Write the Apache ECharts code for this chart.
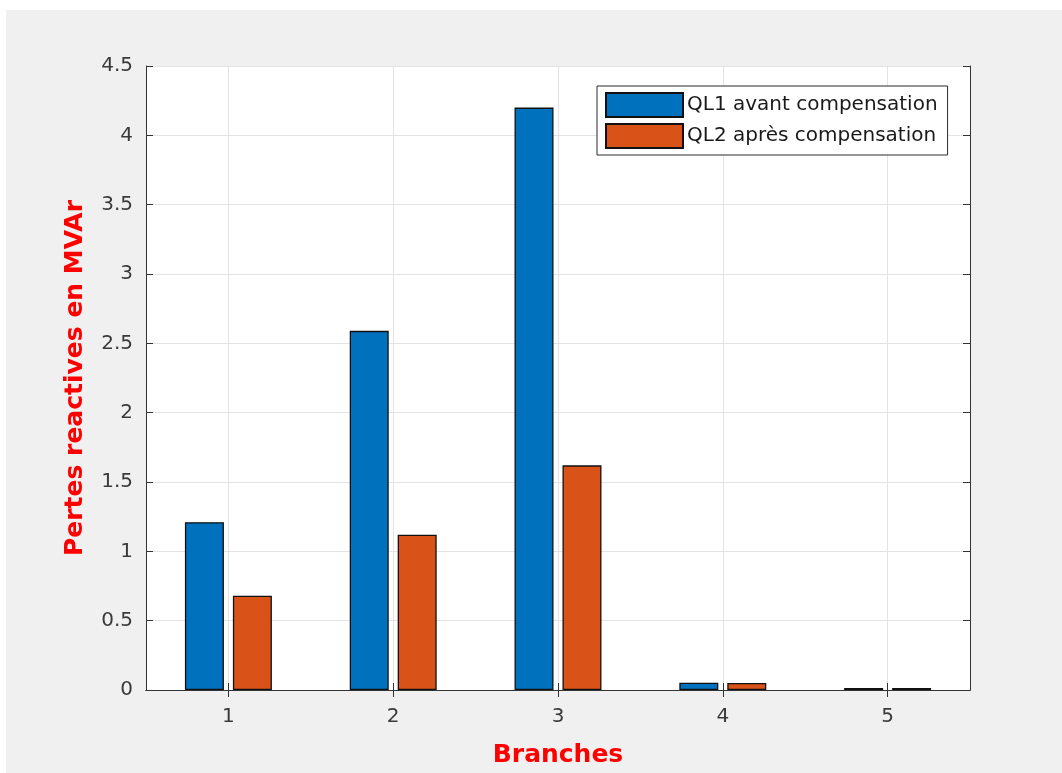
<!DOCTYPE html>
<html>
<head>
<meta charset="utf-8">
<script src="https://cdn.jsdelivr.net/npm/echarts@6/dist/echarts.min.js"></script>
<style>
  html, body { margin: 0; padding: 0; background: #ffffff; }
  #chart { position: absolute; left: 6px; top: 10px; width: 1056px; height: 763px; }
</style>
</head>
<body>
<div id="chart"></div>
<script>
// Branch numbers along the x axis
const branches = ['1', '2', '3', '4', '5'];
// Reactive losses per branch (MVAr)
const ql1Avant = [1.21, 2.59, 4.20, 0.052, 0.015];
const ql2Apres = [0.68, 1.12, 1.62, 0.050, 0.015];
// Series names shown in the legend
const seriesNames = ['QL1 avant compensation', 'QL2 après compensation'];
// Y axis range
const yMin = 0, yMax = 4.5, yStep = 0.5;

const FONT = 'DejaVu Sans';
const AXIS_COLOR = '#333333';
const GRID_COLOR = '#e3e3e3';

const chart = echarts.init(document.getElementById('chart'), null, { renderer: 'canvas' });

const frameLine = { show: true, lineStyle: { color: AXIS_COLOR, width: 1 } };
const innerTick = { show: true, inside: true, length: 7, lineStyle: { color: AXIS_COLOR, width: 1 } };

chart.setOption({
  animation: false,
  backgroundColor: '#f0f0f0',
  textStyle: { fontFamily: FONT },
  grid: {
    left: 140, top: 56, right: 92, bottom: 79,
    show: true, backgroundColor: '#ffffff', borderWidth: 0,
    containLabel: false
  },
  legend: {
    orient: 'vertical',
    left: 591, top: 76,
    itemWidth: 77, itemHeight: 24, itemGap: 5,
    padding: [6, 10, 6, 8],
    backgroundColor: '#ffffff',
    borderColor: '#2b2b2b', borderWidth: 1, borderRadius: 0,
    icon: 'rect',
    textStyle: { fontFamily: FONT, fontSize: 20, color: '#1a1a1a', padding: [0, 0, 0, -1] },
    data: seriesNames
  },
  xAxis: [
    {
      type: 'category',
      data: branches,
      position: 'bottom',
      name: 'Branches',
      nameLocation: 'middle',
      nameGap: 53,
      nameTextStyle: { fontFamily: FONT, fontWeight: 'bold', fontSize: 25, color: '#ff0000' },
      axisLine: frameLine,
      axisTick: Object.assign({ alignWithLabel: true }, innerTick),
      axisLabel: { fontFamily: FONT, fontSize: 20, color: '#3a3a3a', margin: 17 },
      splitLine: { show: true, alignWithLabel: true, lineStyle: { color: GRID_COLOR, width: 1 } }
    },
    {
      type: 'category',
      data: branches,
      position: 'top',
      axisLine: frameLine,
      axisTick: Object.assign({ alignWithLabel: true }, innerTick),
      axisLabel: { show: false },
      splitLine: { show: false }
    }
  ],
  yAxis: [
    {
      type: 'value',
      min: yMin, max: yMax, interval: yStep,
      position: 'left',
      name: 'Pertes reactives en MVAr',
      nameLocation: 'middle',
      nameGap: 58,
      nameTextStyle: { fontFamily: FONT, fontWeight: 'bold', fontSize: 25, color: '#ff0000' },
      axisLine: frameLine,
      axisTick: innerTick,
      axisLabel: { fontFamily: FONT, fontSize: 20, color: '#3a3a3a', margin: 13 },
      splitLine: { show: true, lineStyle: { color: GRID_COLOR, width: 1 } }
    },
    {
      type: 'value',
      min: yMin, max: yMax, interval: yStep,
      position: 'right',
      axisLine: frameLine,
      axisTick: innerTick,
      axisLabel: { show: false },
      splitLine: { show: false }
    }
  ],
  series: [
    {
      name: seriesNames[0],
      type: 'bar',
      xAxisIndex: 0, yAxisIndex: 0,
      data: ql1Avant,
      barWidth: 39,
      barGap: '23%',
      itemStyle: { color: '#0072BD', borderColor: '#111111', borderWidth: 1.3 }
    },
    {
      name: seriesNames[1],
      type: 'bar',
      xAxisIndex: 0, yAxisIndex: 0,
      data: ql2Apres,
      barWidth: 39,
      barGap: '23%',
      itemStyle: { color: '#D95319', borderColor: '#111111', borderWidth: 1.3 }
    }
  ]
});
</script>
</body>
</html>
